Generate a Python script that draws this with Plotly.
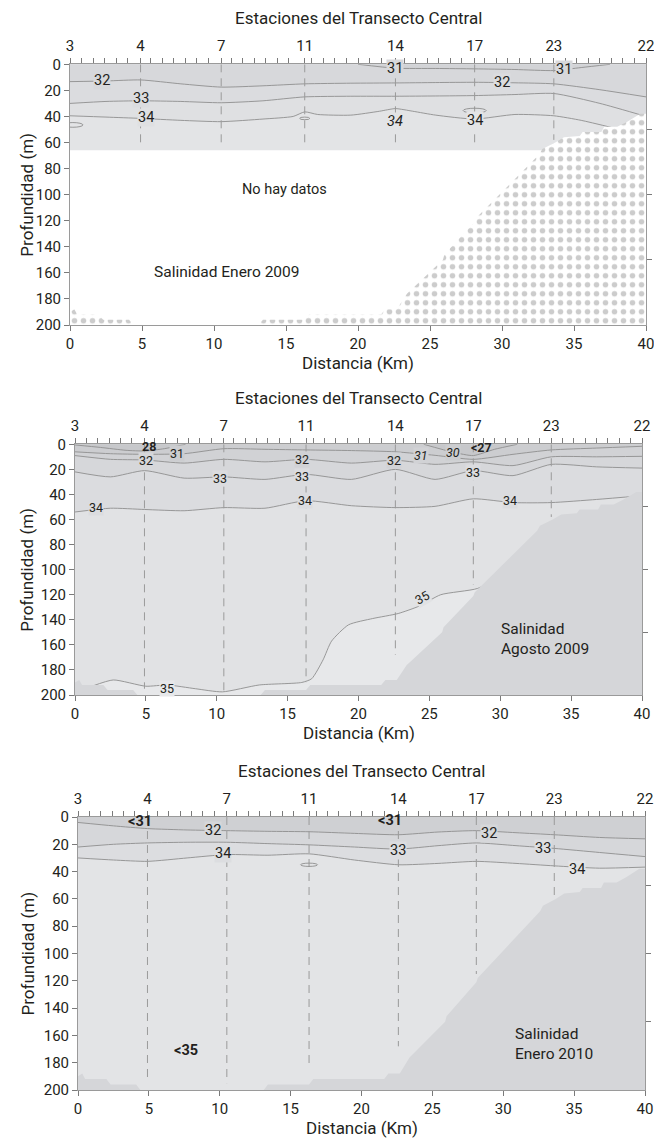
import numpy as np
import plotly.graph_objects as go

# ---------------- data ----------------
station_names = ['3', '4', '7', '11', '14', '17', '23', '22']
station_km = [0, 4.9, 10.5, 16.3, 22.6, 28.1, 33.6, 40]
cast_km = [4.9, 10.5, 16.3, 22.6, 28.1, 33.6]
p1_cast_depth = [60, 60, 60, 60, 60, 58]
p2_cast_depth = [195, 200, 190, 168, 112, 58]
p3_cast_depth = [193, 195, 182, 168, 115, 58]

bathy_km = [0, 0.3, 0.5, 2.0, 2.3, 4.1, 4.4, 13.1, 13.4, 16.3, 16.6, 21.6, 21.9, 22.7,
            23.4, 23.6, 25.9, 26.0, 28.1, 28.2, 32.6, 32.8, 33.7, 34.3, 35.4, 35.6,
            36.9, 37.1, 38.0, 38.7, 39.6, 40]
bathy_depth = [190, 188, 192, 192, 196, 196, 200, 200, 196, 196, 192, 192, 188, 188,
               176, 174, 150, 146, 121, 118, 69, 65, 60, 56, 55, 52,
               52, 48, 48, 44, 38, 38]

grid_km = [0, 2.5, 4.9, 7.7, 10.5, 13.4, 16.3, 19.5, 22.6, 25.4, 28.1, 30.9, 33.6, 36.8, 40]

# Panel 1: Enero 2009
p1_data_limit = 66
p1_s31_km = [20, 22.6, 25.4, 28.1, 30.9, 33.6, 35.5, 37.5]
p1_s31 = [0, 3, 3.2, 3.5, 4, 4.8, 2.5, 0]
p1_s32 = [13.3, 12.8, 12, 15, 17.5, 16.5, 15, 14.5, 14.3, 14, 13.8, 14.2, 15, 19.5, 25]
p1_s33 = [30, 28.5, 28, 28.5, 29.5, 28, 25, 24.5, 24.5, 24.3, 24, 23.2, 22.4, 30, 40]
p1_s34_km = [0, 2.5, 4.9, 7.7, 10.5, 13.4, 15.5, 16.3, 17.2, 19.5, 21.5, 22.6, 23.8,
             25.4, 28.1, 30.9, 33.6, 35.5, 37.8]
p1_s34 = [39.5, 40.5, 41.5, 43, 44, 42, 40, 36.5, 38.5, 39, 36, 34, 36, 39, 42, 38.5,
          39.5, 43, 49]
p1_eddy_km = [0.2, 16.3, 28.1]
p1_eddy_depth = [46.5, 41.5, 35.5]
p1_eddy_half_km = [0.7, 0.35, 0.8]
p1_eddy_half_m = [1.8, 1.0, 1.8]
p1_labels = ['32', '33', '34', '31', '32', '31', '<i>34</i>', '34']
p1_label_km = [2.2, 4.9, 5.3, 22.6, 30.0, 34.3, 22.6, 28.1]
p1_label_depth = [12.8, 26.5, 41, 3.5, 14.3, 4, 44, 43]

# Panel 2: Agosto 2009
p2_s28_km = [0, 1.8, 3.6, 4.9, 6.3, 7.8]
p2_s28 = [0.5, 2.5, 4.8, 5.3, 3.5, 0]
p2_s30_km = [24.6, 26.7, 28.1, 29.6, 31.2]
p2_s30 = [0, 6.4, 9, 4, 0]
p2_s31 = [6, 7.5, 8, 7.5, 3.5, 4, 4.5, 5, 6, 8.8, 12, 8, 4.5, 3, 1.6]
p2_s32 = [9, 12, 12.5, 15, 12, 14, 12, 15, 12.7, 16, 14, 17, 10, 10, 9.6]
p2_s33 = [22, 26, 21, 27, 26, 28, 24, 28, 20, 28, 21, 25, 16, 18, 19]
p2_s34 = [54, 51, 52, 53, 50.5, 51, 45, 49, 50.5, 49.5, 43.5, 46.5, 46.5, 44, 41]
p2_s35_km = [1.2, 2.7, 5, 6.5, 8.5, 10.4, 13, 16, 16.7, 17.5, 18.1, 19.3, 21, 22.8,
             24.3, 25.8, 28.4, 30.2, 31.6]
p2_s35 = [193, 188, 193, 192, 195, 197.5, 192, 190, 187, 172, 157, 144, 139, 135,
          129, 120, 115, 104, 85]
p2_labels = ['<b>28</b>', '32', '31', '33', '32', '33', '34', '34', '32', '<i>31</i>',
             '<i>30</i>', '<b>&lt;27</b>', '33', '34', '35']
p2_label_km = [5.2, 5.0, 7.2, 10.2, 16.0, 16.0, 16.2, 1.5, 22.5, 24.4, 26.7, 28.7,
               28.1, 30.7, 6.5]
p2_label_depth = [1.6, 12.7, 7.2, 27, 12, 25.5, 44.6, 50.5, 12.7, 8.8, 6.4, 2.4,
                  22.3, 44.6, 195]
p2_tilted_label = ['35']
p2_tilted_km = [24.5]
p2_tilted_depth = [122]

# Panel 3: Enero 2010
p3_s32 = [4, 6.5, 8.5, 9.5, 10, 10.5, 10.8, 12, 13, 11, 10, 11.5, 13, 15, 16]
p3_s33 = [22, 20, 19, 18.5, 18.5, 19.5, 20.4, 22, 23.5, 21, 19, 21, 23, 26, 29]
p3_s34 = [30, 31.5, 32.5, 30, 27.5, 28, 27, 31.5, 35, 34, 32.5, 34, 35.8, 37.5, 36.7]
p3_eddy_km = [16.3]
p3_eddy_depth = [35]
p3_eddy_half_km = [0.6]
p3_eddy_half_m = [1.2]
p3_labels = ['<b>&lt;31</b>', '32', '34', '<b>&lt;31</b>', '33', '32', '33', '34',
             '<b>&lt;35</b>']
p3_label_km = [4.4, 9.5, 10.2, 22.0, 22.6, 29.0, 32.8, 35.2, 7.6]
p3_label_depth = [3.6, 10.2, 27, 2.2, 24.6, 12.4, 22.9, 38.7, 171]

# ---------------- style ----------------
FONT = 'Roboto'
TXT = '#231f20'
AXC = '#9a9a9a'
TICKC = '#7a7a7a'
LINEC = '#8f8f8f'
W, H = 654, 1145
MINOR_STEP = 0.8

panels = [
    dict(x='x', y='y', xt='x4', yr='y4', xpx=(70, 646), ypx=(64.3, 325)),
    dict(x='x2', y='y2', xt='x5', yr='y5', xpx=(75, 642), ypx=(444.3, 695)),
    dict(x='x3', y='y3', xt='x6', yr='y6', xpx=(78, 645), ypx=(817, 1090)),
]

fig = go.Figure()


def poly(xs, ys, color, p, pattern=None, shape='spline'):
    kw = dict(fillpattern=pattern) if pattern else {}
    fig.add_trace(go.Scatter(x=xs, y=ys, fill='toself', fillcolor=color, mode='lines',
                             line=dict(width=0, color=color, shape=shape, smoothing=0.6),
                             hoverinfo='skip', showlegend=False,
                             xaxis=p['x'], yaxis=p['y'], **kw))


def above(xs, ys):
    return [0, 0] + list(xs) + [40, 40], [0, ys[0]] + list(ys) + [ys[-1], 0]


def cline(xs, ys, p):
    fig.add_trace(go.Scatter(x=xs, y=ys, mode='lines',
                             line=dict(width=0.9, color=LINEC, shape='spline', smoothing=0.6),
                             hoverinfo='skip', showlegend=False, xaxis=p['x'], yaxis=p['y']))


def layer_color(layers, base, lx, ly):
    c = base
    for xs, ys, col in layers:
        if xs[0] <= lx <= xs[-1] and ly < np.interp(lx, xs, ys):
            c = col
    return c


def casts(depths, p):
    xs, ys = [], []
    for k, d in zip(cast_km, depths):
        xs += [k, k, None]
        ys += [0, d, None]
    fig.add_trace(go.Scatter(x=xs, y=ys, mode='lines',
                             line=dict(width=1, color=AXC, dash='8px,6px'),
                             hoverinfo='skip', showlegend=False, xaxis=p['x'], yaxis=p['y']))


def bathy(p, color, pattern=None):
    poly(bathy_km + [40, 0], bathy_depth + [200, 200], color, p, pattern, shape='linear')


def labels(texts, kms, depths, layers, base, p, size):
    for t, lx, ly in zip(texts, kms, depths):
        bg = None if t.startswith('<b>') else layer_color(layers, base, lx, ly)
        fig.add_annotation(x=lx, y=ly, xref=p['x'], yref=p['y'], text=t, showarrow=False,
                           xanchor='center', yanchor='middle',
                           font=dict(family=FONT, size=size, color=TXT),
                           bgcolor=bg, borderpad=0)


def ellipses(kms, deps, hk, hm, p):
    for cx, cy, a, b in zip(kms, deps, hk, hm):
        fig.add_shape(type='circle', xref=p['x'], yref=p['y'], x0=cx - a, x1=cx + a,
                      y0=cy - b, y1=cy + b, line=dict(color=LINEC, width=0.9))


def text(x, y, t, p, size=15.5, anchor='center'):
    fig.add_annotation(x=x, y=y, xref=p['x'], yref=p['y'], text=t, showarrow=False,
                       xanchor=anchor, yanchor='middle', align=anchor,
                       font=dict(family=FONT, size=size, color=TXT))


# ---------- panel 1 ----------
P = panels[0]
p1_base = '#e3e4e6'
p1_layers = [(p1_s34_km, p1_s34, '#dfe0e2'), (grid_km, p1_s33, '#dbdcdf'),
             (grid_km, p1_s32, '#d7d8db'), (p1_s31_km, p1_s31, '#d2d3d6')]
poly([0, 40, 40, 0], [0, 0, p1_data_limit, p1_data_limit], p1_base, P, shape='linear')
for xs, ys, col in p1_layers:
    ax, ay = above(xs, ys)
    poly(ax, ay, col, P)
for xs, ys, col in p1_layers:
    cline(xs, ys, P)
ellipses(p1_eddy_km, p1_eddy_depth, p1_eddy_half_km, p1_eddy_half_m, P)
bathy(P, 'white', pattern=dict(shape='.', fgcolor='#9a9a9a', bgcolor='white',
                               size=9, solidity=0.3))
casts(p1_cast_depth, P)
labels(p1_labels, p1_label_km, p1_label_depth, p1_layers, p1_base, P, 14.5)
text(14.9, 96, 'No hay datos', P, 14.5)
text(10.9, 159, 'Salinidad Enero 2009', P, 15.5)

# ---------- panel 2 ----------
P = panels[1]
p2_base = '#e7e8ea'
p2_layers = [(p2_s35_km, p2_s35, '#e1e2e4'), (grid_km, p2_s34, '#dbdcdf'),
             (grid_km, p2_s33, '#d6d7da'), (grid_km, p2_s32, '#d1d2d5'),
             (grid_km, p2_s31, '#cccdd0'), (p2_s30_km, p2_s30, '#c7c8cb'),
             (p2_s28_km, p2_s28, '#c7c8cb')]
poly([0, 40, 40, 0], [0, 0, 200, 200], p2_base, P, shape='linear')
for xs, ys, col in p2_layers:
    ax, ay = above(xs, ys)
    poly(ax, ay, col, P)
for xs, ys, col in p2_layers:
    cline(xs, ys, P)
bathy(P, '#d5d6d9')
casts(p2_cast_depth, P)
labels(p2_labels, p2_label_km, p2_label_depth, p2_layers, p2_base, P, 12.5)
for t, lx, ly in zip(p2_tilted_label, p2_tilted_km, p2_tilted_depth):
    fig.add_annotation(x=lx, y=ly, xref='x2', yref='y2', text=t, showarrow=False,
                       xanchor='center', yanchor='middle',
                       textangle=-30, font=dict(family=FONT, size=12.5, color=TXT),
                       bgcolor=layer_color(p2_layers, p2_base, lx, ly), borderpad=0)
text(29.9, 155.5, 'Salinidad<br>Agosto 2009', P, 15.5, 'left')

# ---------- panel 3 ----------
P = panels[2]
p3_base = '#e3e4e6'
p3_layers = [(grid_km, p3_s34, '#dcdde0'), (grid_km, p3_s33, '#d6d7da'),
             (grid_km, p3_s32, '#cfd0d3')]
poly([0, 40, 40, 0], [0, 0, 200, 200], p3_base, P, shape='linear')
for xs, ys, col in p3_layers:
    ax, ay = above(xs, ys)
    poly(ax, ay, col, P)
for xs, ys, col in p3_layers:
    cline(xs, ys, P)
ellipses(p3_eddy_km, p3_eddy_depth, p3_eddy_half_km, p3_eddy_half_m, P)
bathy(P, '#d5d6d9')
casts(p3_cast_depth, P)
labels(p3_labels, p3_label_km, p3_label_depth, p3_layers, p3_base, P, 14.5)
text(30.7, 166, 'Salinidad<br>Enero 2010', P, 15.5, 'left')

# ---------- axes ----------
minor_km = [float(v) for v in np.arange(0, 40.01, MINOR_STEP)
            if min(abs(v - s) for s in station_km) > 0.4]
top_vals = station_km + minor_km
top_text = station_names + [''] * len(minor_km)

tickfont = dict(family=FONT, size=15, color=TXT)
layout = {}
for i, p in enumerate(panels):
    n = '' if i == 0 else str(i + 1)
    xd = [p['xpx'][0] / W, p['xpx'][1] / W]
    yd = [1 - p['ypx'][1] / H, 1 - p['ypx'][0] / H]
    common = dict(showgrid=False, zeroline=False, showline=True, linecolor=AXC,
                  linewidth=1, ticks='outside', tickcolor=TICKC, ticklen=5, tickwidth=1,
                  tickfont=tickfont, automargin=False, ticklabeloverflow='allow')
    layout['xaxis' + n] = dict(domain=xd, anchor=p['y'], range=[0, 40],
                               tickvals=list(range(0, 41, 5)), **common)
    layout['yaxis' + n] = dict(domain=yd, anchor=p['x'], range=[200, 0],
                               tickvals=list(range(0, 201, 20)), **common)
    tn = p['xt'][1:]
    layout['xaxis' + tn] = dict(overlaying=p['x'], side='top', anchor=p['y'], range=[0, 40],
                                tickmode='array', tickvals=top_vals, ticktext=top_text,
                                ticklabelstandoff=1, **common)
    rn = p['yr'][1:]
    layout['yaxis' + rn] = dict(overlaying=p['y'], side='right', anchor=p['x'],
                                range=[200, 0], tickvals=[50, 100, 150],
                                showticklabels=False, **{k: v for k, v in common.items()
                                                         if k != 'tickfont'})
    fig.add_trace(go.Scatter(x=[0], y=[0], mode='none', xaxis=p['xt'], yaxis=p['yr'],
                             hoverinfo='skip', showlegend=False))
    xc = (p['xpx'][0] + p['xpx'][1]) / 2 / W
    ytop = p['ypx'][0]
    ybot = p['ypx'][1]
    fig.add_annotation(x=xc, y=1 - (ytop - 46) / H, xref='paper', yref='paper',
                       xanchor='center', yanchor='middle',
                       text='Estaciones del Transecto Central', showarrow=False,
                       font=dict(family=FONT, size=17, color=TXT))
    fig.add_annotation(x=xc, y=1 - (ybot + 38) / H, xref='paper', yref='paper',
                       xanchor='center', yanchor='middle',
                       text='Distancia (Km)', showarrow=False,
                       font=dict(family=FONT, size=17, color=TXT))
    fig.add_annotation(x=27 / W, y=1 - (ytop + ybot) / 2 / H, xref='paper', yref='paper',
                       xanchor='center', yanchor='middle',
                       text='Profundidad (m)', showarrow=False, textangle=-90,
                       font=dict(family=FONT, size=17, color=TXT))

fig.update_layout(width=W, height=H, margin=dict(l=0, r=0, t=0, b=0),
                  paper_bgcolor='white', plot_bgcolor='white', showlegend=False,
                  **layout)
fig.write_html('out.html')
